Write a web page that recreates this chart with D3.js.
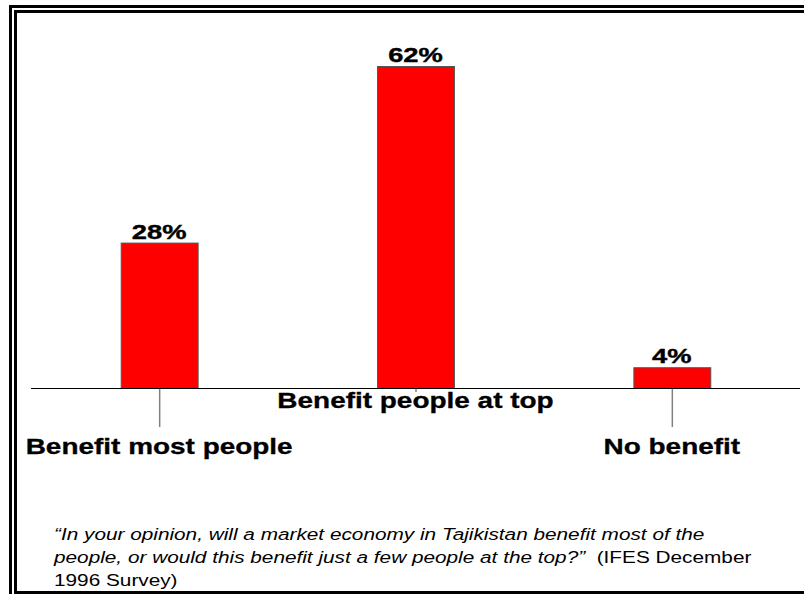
<!DOCTYPE html>
<html>
<head>
<meta charset="utf-8">
<script src="https://cdn.jsdelivr.net/npm/d3@7"></script>
<style>
  html, body { margin: 0; padding: 0; background: #fff; }
  svg { display: block; }
</style>
</head>
<body>
<svg id="chart" width="804" height="594"></svg>
<script>
// Survey answers and their shares (%)
const categories = ["Benefit most people", "Benefit people at top", "No benefit"];
const values = [28, 62, 4];
const valueLabels = ["28%", "62%", "4%"];
// Label row per category (0 = lower row, 1 = upper row)
const labelRow = [0, 1, 0];

const svg = d3.select("#chart");
const W = 804, H = 594;
const FONT = "Liberation Sans, Arial, Helvetica, sans-serif";
const STRETCH = 1.3; // wide lettering used throughout the slide

// Frame: double rule on top and left, single rule at bottom
svg.append("rect").attr("x", 9).attr("y", 5).attr("width", 3).attr("height", H - 5).attr("fill", "#000");
svg.append("rect").attr("x", 9).attr("y", 5).attr("width", W - 9).attr("height", 3).attr("fill", "#000");
svg.append("rect").attr("x", 14).attr("y", 10).attr("width", 3).attr("height", H - 10).attr("fill", "#000");
svg.append("rect").attr("x", 14).attr("y", 10).attr("width", W - 14).attr("height", 3).attr("fill", "#000");
svg.append("rect").attr("x", 14).attr("y", 591).attr("width", W - 14).attr("height", 3).attr("fill", "#000");

const axisY = 388;
const x = d3.scaleBand().domain(categories).range([31, 800]).paddingInner(0.7).paddingOuter(0.35);
const y = d3.scaleLinear().domain([0, 62]).range([axisY, 66]);
const cx = c => x(c) + x.bandwidth() / 2;

const g = svg.append("g");

// Bars
g.selectAll("rect.bar").data(values).join("rect")
  .attr("class", "bar")
  .attr("x", (d, i) => x(categories[i]) + 0.5)
  .attr("y", d => y(d) + 0.5)
  .attr("width", x.bandwidth())
  .attr("height", d => axisY - y(d))
  .attr("fill", "#ff0000")
  .attr("stroke", "#555")
  .attr("stroke-width", 1);

// Value labels above bars
g.selectAll("g.val").data(values).join("g")
  .attr("class", "val")
  .attr("transform", (d, i) => `translate(${cx(categories[i])},${y(d) - 4}) scale(${STRETCH},1)`)
  .append("text")
  .attr("text-anchor", "middle")
  .attr("font-family", FONT)
  .attr("font-weight", "bold")
  .attr("font-size", 21)
  .attr("stroke", "#000")
  .attr("stroke-width", 0.4)
  .text((d, i) => valueLabels[i]);

// Category axis line
g.append("line")
  .attr("x1", 31).attr("x2", 800)
  .attr("y1", axisY + 0.5).attr("y2", axisY + 0.5)
  .attr("stroke", "#000").attr("stroke-width", 1);

// Tick marks, longer for the lower label row
g.selectAll("line.tick").data(categories).join("line")
  .attr("class", "tick")
  .attr("x1", d => cx(d) + 0.5)
  .attr("x2", d => cx(d) + 0.5)
  .attr("y1", axisY + 1)
  .attr("y2", (d, i) => labelRow[i] === 0 ? 427 : 392)
  .attr("stroke", "#808080").attr("stroke-width", 1.5);

// Category labels, staggered on two rows
g.selectAll("g.cat").data(categories).join("g")
  .attr("class", "cat")
  .attr("transform", (d, i) => `translate(${cx(d)},${labelRow[i] === 0 ? 454 : 408}) scale(${STRETCH},1)`)
  .append("text")
  .attr("text-anchor", "middle")
  .attr("font-family", FONT)
  .attr("font-weight", "bold")
  .attr("font-size", 21.5)
  .attr("stroke", "#000")
  .attr("stroke-width", 0.3)
  .text(d => d);

// Question caption
const cap = svg.append("g")
  .attr("transform", `translate(54,0) scale(1.26,1)`)
  .append("text")
  .attr("font-family", FONT)
  .attr("font-size", 16.5)
  .attr("fill", "#000");
cap.append("tspan").attr("x", 0).attr("y", 540).attr("font-style", "italic")
  .text("\u201CIn your opinion, will a market economy in Tajikistan benefit most of the");
const l2 = cap.append("tspan").attr("x", 0).attr("y", 563);
l2.append("tspan").attr("font-style", "italic")
  .text("people, or would this benefit just a few people at the top?\u201D");
l2.append("tspan").text("\u00A0 (IFES December");
cap.append("tspan").attr("x", 0).attr("y", 586).text("1996 Survey)");
</script>
</body>
</html>
